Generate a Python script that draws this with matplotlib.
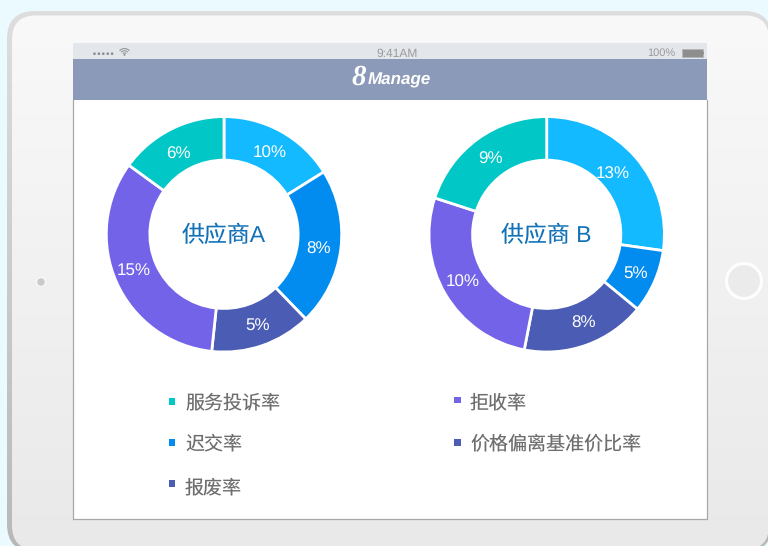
import numpy as np
import matplotlib
matplotlib.use("Agg")
import matplotlib.pyplot as plt
from matplotlib.colors import LinearSegmentedColormap
from matplotlib.patches import FancyBboxPatch, Rectangle, Circle, Arc

FONT = ['Liberation Sans', 'Noto Sans CJK SC', 'DejaVu Sans']
plt.rcParams['font.family'] = FONT
plt.rcParams['text.hinting'] = 'no_hinting'
plt.rcParams['text.hinting_factor'] = 1

# ---- data ----
slice_colors = ['#14BAFF', '#038CF0', '#4A5CB3', '#7263E9', '#02C7C7']
# drawn slice shares (read from the arcs) and the printed labels
shares_a = [58, 78, 50, 120, 54]
labels_a = ['10%', '8%', '5%', '15%', '6%']
title_a = '供应商A'
shares_b = [98, 31.5, 61.5, 97, 72]
labels_b = ['13%', '5%', '8%', '10%', '9%']
title_b = '供应商 B'
legend_labels = ['服务投诉率', '迟交率', '报废率', '拒收率', '价格偏离基准价比率']
legend_colors = ['#02C7C7', '#038CF0', '#4A5CB3', '#7263E9', '#4A5CB3']

# ---- layout (pixels) ----
W, H = 768, 546
legend_x = [172, 172, 172, 457.5, 457.5]
legend_y = [401.5, 442.5, 483.5, 400, 442.5]
legend_text_y = [403, 444.5, 488, 403, 444.5]
legend_text_x = [185, 185, 185, 470, 470]
nudge_a = [(-1, 4), (-1, 3), (2, 0), (-2, -3), (-2, 6)]
nudge_b = [(-7, 3), (1, 0), (4, -2), (-1, -1), (1, 3)]

fig = plt.figure(figsize=(W / 100, H / 100), dpi=100, facecolor='#EAFAFF')
bg = fig.add_axes([0, 0, 1, 1])
bg.set_xlim(0, W)
bg.set_ylim(H, 0)
bg.axis('off')


def gradient(top, bottom, x0, x1, y0, y1, clip, z):
    cmap = LinearSegmentedColormap.from_list('g', [top, bottom])
    im = bg.imshow(np.linspace(0, 1, 256)[:, None], cmap=cmap, aspect='auto',
                   extent=[x0, x1, y1, y0], zorder=z)
    im.set_clip_path(clip)


# tablet body
outer = FancyBboxPatch((7, 11), 765, 541, boxstyle='round,pad=0,rounding_size=28',
                       fc='none', ec='none', transform=bg.transData)
bg.add_patch(outer)
gradient('#DEDEDE', '#B8B8B8', 7, 772, 11, 552, outer, 1)
inner = FancyBboxPatch((12, 15.5), 757, 534, boxstyle='round,pad=0,rounding_size=24',
                       fc='none', ec='none', transform=bg.transData)
bg.add_patch(inner)
gradient('#F9F9F9', '#E9E9E9', 12, 769, 15.5, 549.5, inner, 2)
bg.set_xlim(0, W)
bg.set_ylim(H, 0)

# camera and home button
bg.add_patch(Circle((41, 282), 4.3, fc='#C9C9C9', ec='#FAFAFA', lw=0.8, zorder=3))
bg.add_patch(Circle((744, 281), 17.5, fc='#EBEBEB', ec='#FDFDFD', lw=2.3, zorder=3))

# screen
bg.add_patch(Rectangle((73, 43), 634, 476.5, fc='#FFFFFF', ec='none', zorder=3))
bg.add_patch(Rectangle((73, 43), 634, 16, fc='#E3E6EB', ec='none', zorder=4))
bg.add_patch(Rectangle((73, 59), 634, 41, fc='#8B9AB8', ec='none', zorder=4))
bg.plot([73.3, 73.3, 706.6, 706.6], [100, 519.2, 519.2, 100], color='#A8A8A8', lw=0.9, zorder=5)

# status bar
for dx in np.arange(94.5, 114, 4.4):
    bg.add_patch(Circle((dx, 53.7), 1.3, fc='#8A8A8A', ec='none', zorder=6))
for rad in (2.2, 4.4, 6.6):
    bg.add_patch(Arc((124.5, 55.2), rad * 2, rad * 2, theta1=222, theta2=318,
                     color='#8A8A8A', lw=0.7, zorder=6))
bg.add_patch(Circle((124.5, 55), 0.9, fc='#8A8A8A', ec='none', zorder=6))
bg.text(397, 53.5, '9:41AM', ha='center', va='center', fontsize=8.35, color='#9A9A9A', zorder=6)
bg.text(675, 53.5, '100%', ha='right', va='center', fontsize=8, color='#9A9A9A', zorder=6)
bg.add_patch(Rectangle((681.5, 49), 21, 8, fc='#8E8E8E', ec='#B5B5B5', lw=0.6, zorder=6))
bg.add_patch(Rectangle((702.5, 51.7), 1.6, 2.6, fc='#8E8E8E', ec='none', zorder=6))

# logo
bg.text(351, 84.5, '8', ha='left', va='baseline', fontsize=21, color='white',
        family='Liberation Serif', style='italic', weight='bold', zorder=6)
bg.text(367.5, 84.5, 'Manage', ha='left', va='baseline', fontsize=12.2, color='white',
        style='italic', weight='bold', zorder=6)

# legend
bg.scatter(legend_x, legend_y, s=19, marker='s', c=legend_colors, linewidths=0, zorder=6)
for tx, ty, lab in zip(legend_text_x, legend_text_y, legend_labels):
    bg.text(tx, ty, lab, ha='left', va='center', fontsize=13.7, color='#6E6E6E', zorder=6)


def donut(cx, cy, shares, labels, title, nudges):
    R = 117.7
    ax = fig.add_axes([(cx - R) / W, 1 - (cy + R) / H, 2 * R / W, 2 * R / H])
    it = iter(labels)
    _, _, autos = ax.pie(shares, colors=slice_colors, startangle=90, counterclock=False, radius=1,
                         wedgeprops=dict(width=0.37, edgecolor='white', linewidth=2.0),
                         autopct=lambda p: next(it), pctdistance=0.82,
                         textprops=dict(color='white', fontsize=12.4))
    ax.set_xlim(-1, 1)
    ax.set_ylim(-1, 1)
    for t, (dx, dy) in zip(autos, nudges):
        x, y = t.get_position()
        t.set_position((x + dx / R, y - dy / R))
    ax.text(0, -1.5 / R, title, ha='center', va='center', fontsize=16.5, color='#1272B8')
    ax.patch.set_alpha(0)


donut(224, 234.3, shares_a, labels_a, title_a, nudge_a)
donut(546.7, 234.3, shares_b, labels_b, title_b, nudge_b)

fig.savefig('out.png', dpi=100, facecolor=fig.get_facecolor())
